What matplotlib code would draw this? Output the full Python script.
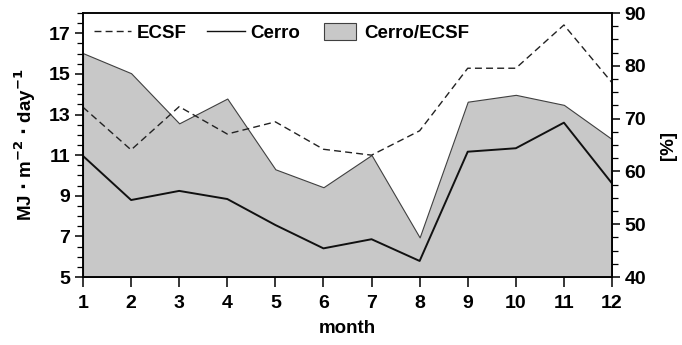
import matplotlib
matplotlib.use("Agg")
import matplotlib.pyplot as plt
from matplotlib.ticker import MultipleLocator
from matplotlib.patches import Patch, Rectangle
from matplotlib.lines import Line2D
from matplotlib.legend_handler import HandlerPatch

plt.rcParams['font.family'] = ['Liberation Sans', 'DejaVu Sans']
plt.rcParams['font.weight'] = 'bold'
plt.rcParams['mathtext.default'] = 'bf'

months = [1, 2, 3, 4, 5, 6, 7, 8, 9, 10, 11, 12]
ecsf = [13.36, 11.26, 13.39, 12.04, 12.64, 11.29, 11.0, 12.2, 15.28, 15.28, 17.41, 14.57]
cerro = [10.96, 8.79, 9.24, 8.84, 7.56, 6.41, 6.86, 5.79, 11.17, 11.34, 12.6, 9.61]
ratio = [82.4, 78.6, 69.1, 73.8, 60.4, 57.0, 63.1, 47.5, 73.2, 74.5, 72.6, 66.1]

FS_TICK = 14
FS = 13.5

fig = plt.figure(figsize=(6.82, 3.45), dpi=100)
ax = fig.add_axes([83/682, 1 - 277/345, (612-83)/682, (277-13)/345])
ax2 = ax.twinx()
ax2.set_zorder(0)
ax.set_zorder(1)
ax.patch.set_visible(False)

ax2.fill_between(months, 40, ratio, facecolor='#c8c8c8', edgecolor='#404040', linewidth=0.8)
ax.plot(months, ecsf, color='#222222', linestyle=(0, (5, 3)), linewidth=1.0)
ax.plot(months, cerro, color='#111111', linestyle='-', linewidth=1.4)

ax.set_xlim(1, 12)
ax.set_ylim(5, 18)
ax2.set_ylim(40, 90)
ax.set_xticks(months)
ax.set_yticks([5, 7, 9, 11, 13, 15, 17])
ax.yaxis.set_minor_locator(MultipleLocator(0.5))
ax2.set_yticks([40, 50, 60, 70, 80, 90])
ax2.yaxis.set_minor_locator(MultipleLocator(2.5))

for a in (ax, ax2):
    for s in a.spines.values():
        s.set_linewidth(1.1)
    a.tick_params(axis='y', which='major', labelsize=FS_TICK, length=6, width=1.1, direction='out', pad=3)
    a.tick_params(axis='x', which='major', labelsize=FS_TICK, length=7, width=1.1, direction='out', pad=6)
    a.tick_params(axis='y', which='minor', length=4, width=0.9, direction='out')
    for lab in a.get_xticklabels() + a.get_yticklabels():
        lab.set_fontweight('bold')

ax.set_xlabel('month', fontsize=FS, fontweight='bold', labelpad=6)
ax.set_ylabel(r'MJ $\cdot$ m$^{-2}$ $\cdot$ day$^{-1}$', fontsize=FS, fontweight='bold', labelpad=8)
ax2.set_ylabel('[%]', fontsize=FS, fontweight='bold', labelpad=10)


def small_rect(legend, orig_handle, xdescent, ydescent, width, height, fontsize):
    w = width * 0.85
    return Rectangle((-xdescent + (width - w) / 2, -ydescent - 1.5), w, height + 3)


handles = [Line2D([], [], color='#222222', linestyle=(0, (5, 3)), linewidth=1.0),
           Line2D([], [], color='#111111', linewidth=1.0),
           Patch(facecolor='#c8c8c8', edgecolor='#404040', linewidth=0.8)]
leg = ax.legend(handles, ['ECSF', 'Cerro', 'Cerro/ECSF'], loc='upper left',
                ncol=3, frameon=False, fontsize=FS, bbox_to_anchor=(0.02, 0.955),
                borderpad=0, borderaxespad=0,
                handlelength=2.0, columnspacing=1.1, handletextpad=0.3,
                handler_map={Patch: HandlerPatch(patch_func=small_rect)})
for t in leg.get_texts():
    t.set_fontweight('bold')

fig.savefig('out.png', dpi=100)
